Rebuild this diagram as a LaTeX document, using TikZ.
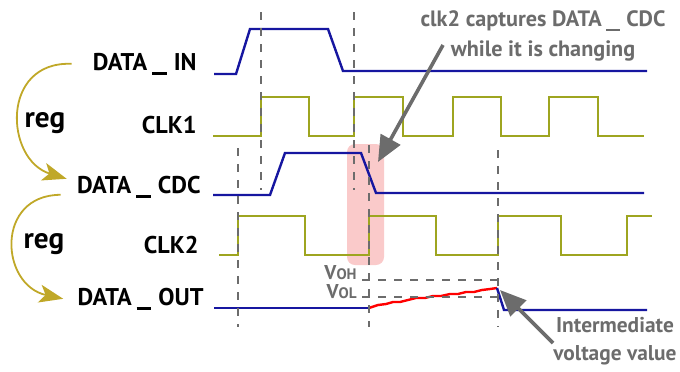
\documentclass[tikz,border=0pt]{standalone}
\usepackage{fontspec}
\setmainfont{PT Sans}
\usetikzlibrary{arrows.meta}

\definecolor{sigblue}{RGB}{22,22,160}
\definecolor{clkolive}{RGB}{158,165,32}
\definecolor{reggold}{RGB}{192,168,40}
\definecolor{markgray}{RGB}{108,108,108}
\definecolor{capturepink}{RGB}{250,202,202}
\newcommand{\usc}{\kern0.2em\rule[-0.2em]{0.6em}{0.1em}\kern0.3em}

\begin{document}
\begin{tikzpicture}[
  x=0.5pt, y=-0.5pt,
  signame/.style={anchor=base east, inner sep=3pt, font=\fontsize{12.1}{14}\selectfont\bfseries},
  reglabel/.style={anchor=base, font=\fontsize{14.6}{16}\selectfont\bfseries},
  note/.style={align=center, text=markgray, font=\fontsize{11.1}{15}\selectfont\bfseries},
  vlabel/.style={anchor=base east, inner sep=0pt, text=markgray, font=\fontsize{10}{12}\selectfont\bfseries},
  datawave/.style={sigblue, line width=1.2pt},
  clkwave/.style={clkolive, line width=1.3pt},
  guide/.style={markgray, line width=1.35pt, dash pattern=on 4pt off 4pt},
  regflow/.style={reggold, line width=0.9pt, -{Stealth[length=12pt,width=9pt,inset=3pt]}},
  callout/.style={markgray, line width=1.8pt, -{Triangle[length=13pt,width=11pt]}},
]
  \useasboundingbox (0,0) rectangle (680,371);

  % capture window behind the waves
  \fill[capturepink, rounded corners=4pt] (347,144) rectangle (384,265);

  % signal names
  \node[signame] (din) at (203,70) {DATA\usc IN};
  \node[signame] (clka) at (203,133) {CLK1};
  \node[signame] (cdc) at (207,193) {DATA\usc CDC};
  \node[signame] (clkb) at (205,253) {CLK2};
  \node[signame] (dout) at (210,305) {DATA\usc OUT};
  \node[reglabel] (rega) at (45,127) {reg};
  \node[reglabel] (regb) at (44,248) {reg};

  \draw[regflow] ([xshift=-7.5pt]din.west) .. controls (0,61) and (5,160) .. ([shift={(-2pt,4pt)}]cdc.west);
  \draw[regflow] ([shift={(-5pt,-4pt)}]cdc.west) .. controls (-5,195) and (0,285) .. ([xshift=-4pt]dout.west);

  % waveforms
  \draw[datawave] (214,74) -- (236,74) -- (250,29) -- (328,29) -- (343,71) -- (647,71);
  \draw[clkwave] (213,136) -- (261,136) -- (261,97) -- (309,97) -- (309,136) -- (354,136)
    -- (354,97) -- (403,97) -- (403,136) -- (453,136) -- (453,97) -- (501,97) -- (501,136)
    -- (549,136) -- (549,97) -- (598,97) -- (598,136) -- (644,136);
  \draw[datawave] (213,195) -- (270,195) -- (285,153) -- (361,153) -- (376,193) -- (644,193);
  \draw[clkwave] (219,255) -- (238,255) -- (238,216) -- (305,216) -- (305,255) -- (369,255)
    -- (369,216) -- (436,216) -- (436,255) -- (498,255) -- (498,216) -- (561,216) -- (561,255)
    -- (627,255) -- (627,216) -- (652,216);
  \draw[datawave] (214,308) -- (369,308);
  \draw[red, line width=1.2pt, line join=round] plot coordinates {(369,308) (378,305) (386,304)
    (393,302) (400,302) (408,300) (416,298) (425,298) (433,296) (441,296) (450,294) (458,294)
    (466,292) (474,292) (482,290) (490,289) (497,288)};
  \draw[datawave] (497,288) -- (504,310) -- (647,310);

  % timing guides
  \draw[guide] (261,12) -- (261,190);
  \draw[guide] (354,12) -- (354,190);
  \draw[guide] (238,148) -- (238,327);
  \draw[guide] (369,145) -- (369,327);
  \draw[guide] (498,150) -- (498,327);
  \draw[guide] (362,280) -- (504,280);
  \draw[guide] (362,297) -- (497,297);
  \node[vlabel] (voh) at (357,279) {V{\fontsize{7.6}{9}\selectfont OH}};
  \node[vlabel] (vol) at (357,298) {V{\fontsize{7.6}{9}\selectfont OL}};

  % annotations
  \node[note] (capnote) at (543,36) {clk2 captures DATA\usc CDC\\while it is changing};
  \node[note, font=\fontsize{10.7}{14}\selectfont\bfseries] (ivnote) at (615,341) {Intermediate\\voltage value};
  \coordinate (capfrom) at (443,45);
  \coordinate (capto) at (378,162);
  \coordinate (ivfrom) at (553,343);
  \coordinate (ivto) at (500,290);
  \draw[callout] (capfrom) -- (capto);
  \draw[callout] (ivfrom) -- (ivto);
\end{tikzpicture}
\end{document}
